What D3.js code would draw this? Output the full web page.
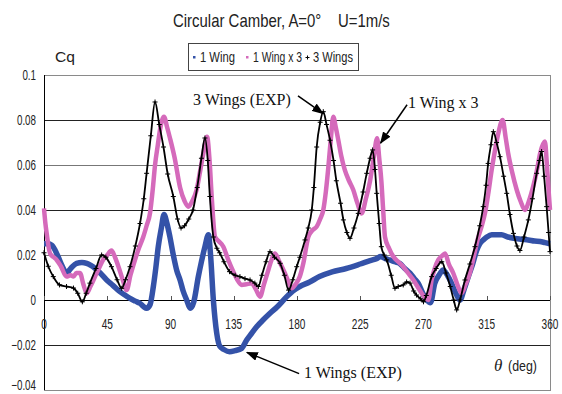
<!DOCTYPE html>
<html>
<head>
<meta charset="utf-8">
<script src="https://cdn.jsdelivr.net/npm/d3@7"></script>
<style>
  body { margin: 0; background: #fff; }
  svg { display: block; }
  .narrow { font-family: "Liberation Sans", Arial, sans-serif; }
  .serif { font-family: "Liberation Serif", "DejaVu Serif", serif; }
</style>
</head>
<body>
<div id="chart"></div>
<script>
// axis ticks
var xTicks = [0, 45, 90, 135, 180, 225, 270, 315, 360];
var yTicks = [0.1, 0.08, 0.06, 0.04, 0.02, 0, -0.02, -0.04];
var yTickLabels = ["0.1", "0.08", "0.06", "0.04", "0.02", "0", "\u22120.02", "\u22120.04"];

// series: [theta (deg), Cq]
var oneWing = [
  [0,0.025],[3,0.025],[5.5,0.0244],[8,0.022],[10.2,0.019],[13,0.015],[16,0.012],[19,0.014],
  [23.2,0.0163],[27,0.0167],[30.4,0.0163],[33,0.0155],[36.3,0.0141],[40,0.012],[44.6,0.0089],
  [49,0.0065],[54,0.0037],[58,0.002],[61.2,0.0007],[65,-0.0005],[68.3,-0.0015],[71,-0.003],
  [73,-0.0037],[75.5,-0.002],[77.8,0.006],[79.5,0.014],[81.3,0.0237],[83.5,0.032],[85.4,0.038],
  [87.5,0.034],[89.6,0.028],[92,0.02],[94.5,0.013],[96.8,0.0089],[99,0.004],[101.5,0.0],
  [104,-0.0037],[106.5,-0.001],[109.8,0.0104],[112,0.017],[114.5,0.0237],[117,0.029],
  [118.5,0.02],[120.5,0.0],[122.9,-0.0148],[125.2,-0.0207],[128,-0.022],[132,-0.023],
  [136,-0.0225],[140.6,-0.0215],[144.2,-0.0178],[147.5,-0.015],[151.3,-0.0119],[156,-0.0088],
  [160.8,-0.0059],[166,-0.003],[172.7,0.0015],[177,0.004],[182,0.006],[189,0.008],[196,0.0104],
  [205,0.0125],[215,0.014],[225,0.016],[232,0.0175],[237,0.0185],[239.5,0.0193],[242.5,0.0185],
  [246,0.0178],[249.5,0.017],[253,0.0163],[256.7,0.014],[260.4,0.0119],[263.5,0.0095],
  [266.3,0.0074],[269.5,0.003],[272.3,0.0],[275,-0.0012],[278,0.0074],[281,0.011],[284,0.0133],
  [287,0.011],[290,0.0074],[293,0.003],[296,0.0],[299,0.005],[301.9,0.0104],[305,0.016],
  [307.8,0.022],[310,0.025],[312.5,0.0267],[315,0.028],[318.5,0.029],[322,0.029],[325.6,0.029],
  [330,0.028],[335,0.0274],[340,0.027],[344.6,0.0267],[349,0.0262],[352.9,0.026],[356.5,0.0255],
  [360,0.025]
];

var oneWingX3 = [
  [0,0.0407],[1,0.034],[1.9,0.0296],[4.3,0.0207],[7,0.019],[9,0.0178],[12,0.015],[16,0.0104],
  [19,0.011],[21,0.0104],[23,0.012],[25.6,0.012],[28,0.007],[30.4,0.003],[33,0.006],[36.3,0.0104],
  [39,0.014],[42,0.0178],[45,0.02],[48,0.022],[50.5,0.019],[53,0.0148],[56,0.009],[58.8,0.0044],
  [61.5,0.011],[64.7,0.0178],[67.5,0.023],[70.6,0.028],[73,0.033],[75.4,0.0385],[77.5,0.05],
  [79,0.06],[81,0.069],[82.5,0.0755],[85.4,0.0815],[87.5,0.077],[89.6,0.072],[93,0.063],
  [96.8,0.05],[100,0.044],[102.7,0.0415],[105.5,0.044],[108.6,0.049],[111,0.057],[113.3,0.065],
  [116,0.0726],[117.8,0.062],[119.3,0.046],[121.7,0.028],[124.5,0.026],[127.6,0.0237],[131,0.018],
  [134.7,0.0126],[137.5,0.009],[140.6,0.0067],[144,0.007],[147.8,0.0074],[150.5,0.005],
  [153.7,0.0015],[156.5,0.007],[159.6,0.0133],[162,0.018],[164.3,0.0207],[167.5,0.017],
  [171.4,0.0119],[174,0.008],[176.2,0.0052],[179,0.007],[182,0.0104],[184.5,0.0163],[188,0.028],
  [191,0.031],[194,0.0326],[196.5,0.036],[198.7,0.04],[200.5,0.048],[202.3,0.059],[204,0.071],
  [205.8,0.0815],[207.5,0.077],[209.4,0.071],[211.5,0.064],[214,0.0578],[217,0.053],[220,0.049],
  [223,0.043],[226,0.0385],[229,0.045],[232,0.053],[234.5,0.063],[237,0.0719],[238.5,0.063],
  [240,0.053],[241.3,0.04],[242.6,0.028],[245.5,0.023],[248.5,0.0193],[252,0.017],[255.6,0.0148],
  [259,0.012],[262.7,0.009],[265.7,0.006],[268.7,0.003],[271,0.001],[273.4,0.0],[275.8,0.009],
  [278,0.014],[280.5,0.0178],[283,0.0195],[285.3,0.0207],[288,0.016],[291.2,0.0119],[294,0.007],
  [297,0.003],[300,0.007],[303,0.012],[306,0.02],[309,0.028],[311.5,0.033],[313.7,0.0385],
  [316,0.047],[318.5,0.0578],[321,0.067],[323.2,0.074],[326.3,0.08],[328.5,0.072],[330.3,0.065],
  [333,0.057],[336.3,0.049],[339,0.044],[342.2,0.04],[345,0.044],[348,0.0504],[350.5,0.057],
  [352.9,0.065],[356.4,0.0704],[357.8,0.06],[359.3,0.046],[360,0.04]
];

var threeWings = [
  [0,0.021],[3,0.015],[6.6,0.0104],[11,0.0067],[16,0.006],[21,0.0053],[24,0.003],[27.3,-0.0008],
  [30,0.003],[32.7,0.0075],[37,0.014],[41,0.02],[44,0.019],[48,0.0148],[52,0.009],[55.3,0.0052],
  [58,0.009],[61.2,0.0148],[65,0.024],[68.3,0.034],[71,0.045],[73,0.0563],[76,0.073],[79,0.088],
  [82,0.078],[85,0.068],[88,0.056],[92,0.046],[95,0.036],[97.5,0.032],[100,0.033],[103,0.036],
  [106,0.04],[109,0.05],[112,0.063],[114.5,0.072],[116.5,0.062],[118,0.046],[120.5,0.028],
  [123,0.023],[125,0.021],[128,0.017],[132,0.0126],[136,0.011],[139.4,0.0104],[143,0.0095],
  [146.6,0.0089],[150,0.0075],[152.5,0.006],[155,0.011],[158,0.017],[160.8,0.0215],[164,0.019],
  [168,0.0163],[171,0.011],[174,0.0044],[177,0.009],[179.8,0.0148],[182,0.019],[185.7,0.0267],
  [188,0.032],[190.5,0.04],[192,0.05],[194,0.068],[196.5,0.079],[198.7,0.0837],[201,0.078],
  [203.5,0.071],[206,0.062],[208,0.053],[211,0.043],[213,0.0356],[215.5,0.03],[217.7,0.0274],
  [220.5,0.032],[223.6,0.0385],[227,0.048],[229.6,0.0563],[232,0.063],[233.8,0.0667],[235.5,0.058],
  [236.7,0.0474],[238.5,0.034],[240,0.0237],[242,0.02],[243.8,0.0178],[247,0.011],[249.7,0.0052],
  [252,0.006],[255.6,0.0067],[258,0.008],[260.4,0.0075],[263,0.004],[265,0.0022],[268,0.0005],
  [270,-0.0008],[272,0.002],[275.8,0.0104],[279,0.014],[283,0.017],[286,0.012],[289,0.006],
  [291.5,0.0],[293.6,-0.0044],[296,0.0],[299.5,0.0089],[303,0.016],[306.6,0.0237],[310,0.033],
  [312.5,0.0415],[314.5,0.051],[316,0.0607],[318,0.069],[319.7,0.0748],[322,0.07],[324.4,0.0637],
  [327,0.055],[329.2,0.0474],[331.5,0.038],[334,0.0296],[336.5,0.024],[338.6,0.022],[341.5,0.028],
  [344.6,0.0356],[347.5,0.045],[350.5,0.0563],[352.5,0.062],[354,0.066],[355.8,0.055],
  [357.6,0.0415],[359,0.03],[360,0.0215]
];

var seriesNames = ["1 Wing", "1 Wing x 3", "3 Wings"];

// annotations: label, arrow tail (deg, Cq), arrow tip (deg, Cq)
var notes = [
  { text: "3 Wings (EXP)", tx: 193, ty: 105, from: [180.7, 0.0907], to: [198.5, 0.0829] },
  { text: "1 Wing x 3",    tx: 408, ty: 108, from: [258.3, 0.0868], to: [239.5, 0.0698] },
  { text: "1 Wings (EXP)", tx: 304, ty: 378, from: [181.5, -0.0327], to: [144.4, -0.0233] }
];

var width = 562, height = 394;
var plot = { left: 44, right: 550, top: 75, bottom: 390 };

var svg = d3.select("#chart").append("svg")
  .attr("width", width)
  .attr("height", height);

var x = d3.scaleLinear().domain([0, 360]).range([plot.left, plot.right]);
var y = d3.scaleLinear().domain([-0.04, 0.1]).range([plot.bottom, plot.top]);

// narrow text: horizontal squeeze via transform (mimics the condensed gothic font)
function squeeze(sel, tx, ty, k) {
  sel.attr("transform", function(d, i){
    return "translate(" + tx(d, i) + "," + ty(d, i) + ") scale(" + k + ",1)";
  });
}
// squeeze a single text to a given width
function fitWidth(sel, tx, ty, w) {
  var k = w / sel.node().getComputedTextLength();
  sel.attr("transform", "translate(" + tx + "," + ty + ") scale(" + k + ",1)");
}

svg.append("defs").append("marker")
  .attr("id", "arrow")
  .attr("viewBox", "0 0 10 10")
  .attr("refX", 9).attr("refY", 5)
  .attr("markerWidth", 12).attr("markerHeight", 9)
  .attr("markerUnits", "userSpaceOnUse")
  .attr("orient", "auto")
  .attr("preserveAspectRatio", "none")
  .append("path")
  .attr("d", "M0,0 L10,5 L0,10 z")
  .attr("fill", "#000");

// plot frame
svg.append("rect")
  .attr("x", plot.left + 0.5).attr("y", plot.top + 0.5)
  .attr("width", plot.right - plot.left).attr("height", plot.bottom - plot.top)
  .attr("fill", "none").attr("stroke", "#8a8a8a");

// grid
svg.append("g").selectAll("line")
  .data(yTicks.filter(function(d){ return d < 0.1 && d > -0.04 && d !== 0; }))
  .enter().append("line")
  .attr("x1", plot.left).attr("x2", plot.right)
  .attr("y1", function(d){ return Math.round(y(d)) + 0.5; })
  .attr("y2", function(d){ return Math.round(y(d)) + 0.5; })
  .attr("stroke", function(d, i){ return i % 2 ? "#777" : "#222"; })
  .attr("stroke-width", 1);

// left axis line
svg.append("line")
  .attr("x1", plot.left + 0.5).attr("x2", plot.left + 0.5)
  .attr("y1", plot.top).attr("y2", plot.bottom)
  .attr("stroke", "#000");

// y tick labels
svg.append("g").attr("class", "narrow").selectAll("text")
  .data(yTicks)
  .enter().append("text")
  .attr("text-anchor", "end")
  .attr("font-size", 14)
  .attr("fill", "#222")
  .text(function(d, i){ return yTickLabels[i]; })
  .call(squeeze, function(){ return 36; },
        function(d){ return Math.min(y(d) + 5, 390); }, 0.7);

// x axis at zero with inner ticks
var xAxis = svg.append("g");
xAxis.append("line")
  .attr("x1", plot.left).attr("x2", plot.right)
  .attr("y1", Math.round(y(0)) + 0.5).attr("y2", Math.round(y(0)) + 0.5)
  .attr("stroke", "#000");
xAxis.selectAll("line.tick")
  .data(xTicks)
  .enter().append("line")
  .attr("class", "tick")
  .attr("x1", function(d){ return Math.round(x(d)) + 0.5; })
  .attr("x2", function(d){ return Math.round(x(d)) + 0.5; })
  .attr("y1", y(0) - 4).attr("y2", y(0))
  .attr("stroke", "#555");
xAxis.append("g").attr("class", "narrow").selectAll("text")
  .data(xTicks)
  .enter().append("text")
  .attr("text-anchor", "middle")
  .attr("font-size", 14)
  .attr("fill", "#222")
  .text(function(d){ return d; })
  .call(squeeze, function(d){ return x(d); }, function(){ return y(0) + 29; }, 0.72);

// series
var line = d3.line()
  .x(function(d){ return x(d[0]); })
  .y(function(d){ return y(d[1]); })
  .curve(d3.curveMonotoneX);

svg.append("path").datum(oneWing)
  .attr("d", line)
  .attr("fill", "none")
  .attr("stroke", "#3452a8")
  .attr("stroke-width", 5.5)
  .attr("stroke-linejoin", "round");

svg.append("path").datum(oneWingX3)
  .attr("d", line)
  .attr("fill", "none")
  .attr("stroke", "#d56abb")
  .attr("stroke-width", 4.5)
  .attr("stroke-linejoin", "round");

svg.append("path").datum(threeWings)
  .attr("d", line)
  .attr("fill", "none")
  .attr("stroke", "#000")
  .attr("stroke-width", 1.8);

svg.append("g").selectAll("path")
  .data(threeWings)
  .enter().append("path")
  .attr("d", "M-2.5,0H2.5M0,-2.5V2.5")
  .attr("transform", function(d){ return "translate(" + x(d[0]) + "," + y(d[1]) + ")"; })
  .attr("stroke", "#000")
  .attr("stroke-width", 1);

// annotations
notes.forEach(function(n){
  svg.append("text")
    .attr("class", "serif")
    .attr("x", n.tx).attr("y", n.ty)
    .attr("font-size", 16)
    .attr("fill", "#111")
    .text(n.text);
  svg.append("line")
    .attr("x1", x(n.from[0])).attr("y1", y(n.from[1]))
    .attr("x2", x(n.to[0])).attr("y2", y(n.to[1]))
    .attr("stroke", "#000").attr("stroke-width", 1.5)
    .attr("marker-end", "url(#arrow)");
});

// title, unit labels
svg.append("text").attr("class", "narrow")
  .attr("font-size", 18)
  .attr("fill", "#222")
  .style("white-space", "pre")
  .text("Circular Camber, A=0\u00b0    U=1m/s")
  .call(fitWidth, 173, 27, 217);

svg.append("text").attr("class", "narrow")
  .attr("font-size", 15)
  .attr("fill", "#222")
  .text("Cq")
  .call(fitWidth, 55, 62, 20);

svg.append("text").attr("class", "serif")
  .attr("x", 494).attr("y", 371)
  .attr("font-size", 17).attr("font-style", "italic")
  .attr("fill", "#222")
  .text("\u03b8");
svg.append("text").attr("class", "narrow")
  .attr("font-size", 14)
  .attr("fill", "#222")
  .text("(deg)")
  .call(fitWidth, 508, 371, 29);

// legend
var legend = svg.append("g").attr("class", "narrow");
legend.append("rect")
  .attr("x", 188.5).attr("y", 43.5)
  .attr("width", 170).attr("height", 27)
  .attr("fill", "#fff").attr("stroke", "#444");
var legendX = [194, 247, 307];
var legendW = [35, 49, 40];
var legendColor = ["#3452a8", "#d56abb", "#000"];
seriesNames.forEach(function(name, i){
  if (i < 2) {
    legend.append("rect")
      .attr("x", legendX[i] - 1).attr("y", 56)
      .attr("width", 2.5).attr("height", 2.5)
      .attr("fill", legendColor[i]);
  } else {
    legend.append("path")
      .attr("d", "M-2,0H2M0,-2V2")
      .attr("transform", "translate(" + (legendX[i] + 0.5) + ",57.5)")
      .attr("stroke", "#000");
  }
  legend.append("text")
    .attr("font-size", 14)
    .attr("fill", "#222")
    .text(name)
    .call(fitWidth, legendX[i] + 6, 62, legendW[i]);
});
</script>
</body>
</html>
